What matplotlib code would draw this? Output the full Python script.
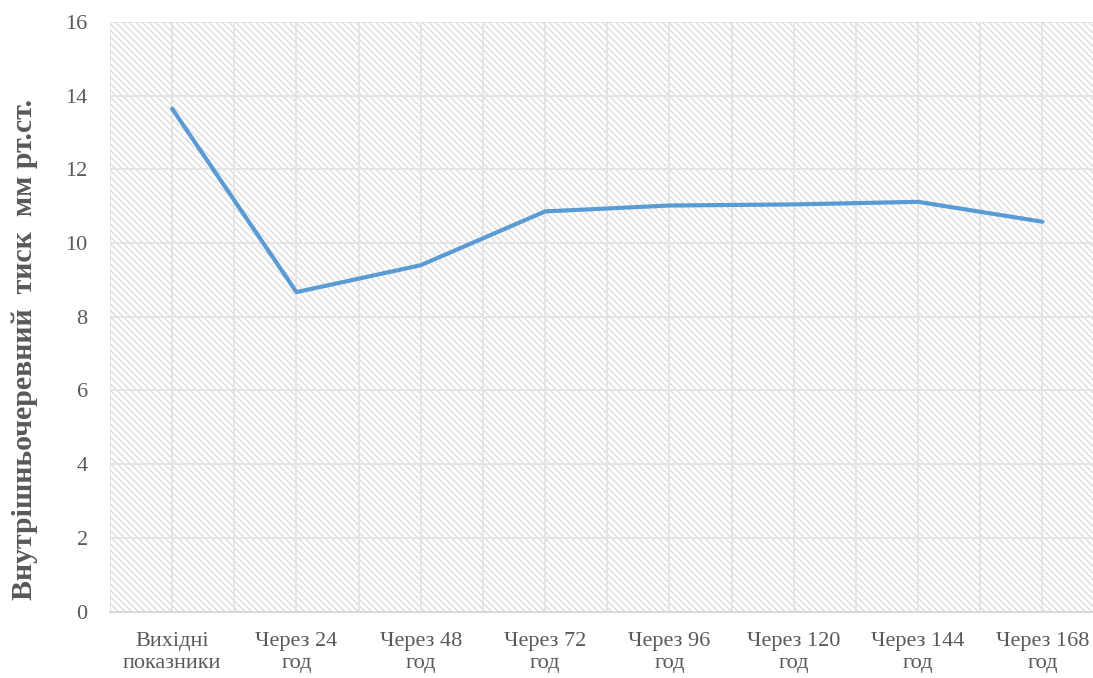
import matplotlib.pyplot as plt
from matplotlib.patches import Rectangle

# data
categories = ["Вихідні\nпоказники", "Через 24\nгод", "Через 48\nгод", "Через 72\nгод",
              "Через 96\nгод", "Через 120\nгод", "Через 144\nгод", "Через 168\nгод"]
pressure = [13.65, 8.67, 9.40, 10.86, 11.02, 11.05, 11.12, 10.58]
y_ticks = [0, 2, 4, 6, 8, 10, 12, 14, 16]

plt.rcParams['font.family'] = ['Liberation Serif', 'DejaVu Serif']
plt.rcParams['hatch.linewidth'] = 0.9
grey_text = "#595959"

fig = plt.figure(figsize=(10.93, 6.78), dpi=100)
ax = fig.add_axes([0.1006, 0.098, 0.910, 0.8695])

# hatched plot area
ax.add_patch(Rectangle((0, 0), 1, 1, transform=ax.transAxes, facecolor="white",
                       edgecolor="#d9d9d9", hatch="\\\\\\\\\\", linewidth=0, zorder=0.1))

xs = list(range(len(pressure)))
ax.plot(xs, pressure, color="#5B9BD5", linewidth=3.0, solid_capstyle="round",
        solid_joinstyle="round", zorder=3)

ax.set_xlim(-0.5, len(categories) - 0.5)
ax.set_ylim(0, 16)
ax.set_yticks(y_ticks)
ax.set_xticks(xs)
ax.set_xticklabels(categories, linespacing=1.2)

# gridlines at categories and between them
for gx in [x - 0.5 for x in range(len(categories) + 1)] + xs:
    ax.axvline(gx, color="#e3e3e3", linewidth=1.3, zorder=0.5)
for gy in y_ticks[1:]:
    ax.axhline(gy, color="#e3e3e3", linewidth=1.3, zorder=0.5)

for s in ["top", "right", "left"]:
    ax.spines[s].set_visible(False)
ax.spines["bottom"].set_color("#d9d9d9")
ax.spines["bottom"].set_linewidth(1.5)
ax.tick_params(axis="both", length=0, labelsize=16, labelcolor=grey_text)
ax.tick_params(axis="y", pad=16)
ax.tick_params(axis="x", pad=15)

ax.set_ylabel("Внутрішньочеревний  тиск  мм рт.ст.", fontsize=21.5, fontweight="bold",
              color=grey_text)
ax.yaxis.set_label_coords(-0.072, 0.444)

fig.savefig("out.png", dpi=100)
